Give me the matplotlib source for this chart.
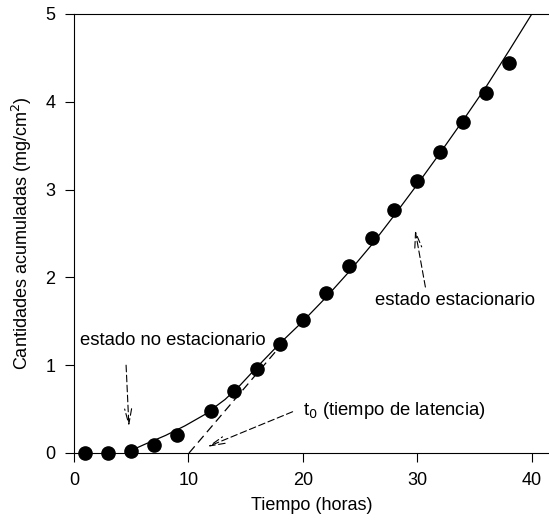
import matplotlib
matplotlib.use('Agg')
import matplotlib.pyplot as plt

plt.rcParams['font.family'] = ['Liberation Sans', 'DejaVu Sans']

# datos experimentales
tiempo = [1, 3, 5, 7, 9, 12, 14, 16, 18, 20, 22, 24, 26, 28, 30, 32, 34, 36, 38]
cantidad = [0.0, 0.0, 0.02, 0.09, 0.21, 0.48, 0.71, 0.96, 1.24, 1.52, 1.82, 2.13,
            2.45, 2.77, 3.10, 3.43, 3.77, 4.10, 4.44]

# curva ajustada
curvaX = [5, 6.2, 8, 9.7, 11.45, 13.2, 14.5, 16, 18, 20, 22, 24, 26, 28, 30, 32, 34, 36, 38, 40, 41]
curvaY = [0.03, 0.10, 0.20, 0.31, 0.44, 0.61, 0.77, 0.98, 1.25, 1.50, 1.77,
          2.06, 2.37, 2.71, 3.06, 3.42, 3.79, 4.17, 4.58, 5.0, 5.21]

# recta tangente (tiempo de latencia)
tangenteX = [10.05, 18.3]
tangenteY = [0.0, 1.26]

fig = plt.figure(figsize=(5.49, 5.24), dpi=100)
ax = fig.add_axes([0.1348, 0.1355, 0.8652, 0.8378])

ax.plot(curvaX, curvaY, 'k-', lw=0.9)
ax.plot(tangenteX, tangenteY, color='black', lw=0.9, linestyle=(0, (7, 4)))
ax.plot(tiempo, cantidad, 'ko', ms=9.5, clip_on=False, zorder=5)

ax.set_xlim(0, 41.5)
ax.set_ylim(0, 5)
ax.set_xticks([0, 10, 20, 30, 40])
ax.set_yticks([0, 1, 2, 3, 4, 5])
ax.tick_params(direction='out', length=6.5, width=0.8, labelsize=13, pad=7)
ax.spines['right'].set_visible(False)
for s in ['left', 'bottom', 'top']:
    ax.spines[s].set_linewidth(0.8)

ax.set_xlabel('Tiempo (horas)', fontsize=13, labelpad=6)
ax.set_ylabel('Cantidades acumuladas (mg/cm$^2$)', fontsize=13, labelpad=8)

flecha = dict(arrowstyle='->,head_length=1.1,head_width=0.25', linestyle=(0, (6, 3)),
              lw=0.8, color='black', shrinkA=0, shrinkB=0)

ax.text(0.52, 1.28, 'estado no estacionario', fontsize=13.3, va='center', ha='left')
ax.annotate('', xy=(4.8, 0.30), xytext=(4.55, 1.0), arrowprops=flecha)

ax.text(26.3, 1.74, 'estado estacionario', fontsize=13.3, va='center', ha='left')
ax.annotate('', xy=(29.8, 2.54), xytext=(30.7, 1.89), arrowprops=flecha)

ax.text(20.0, 0.48, 't$_0$ (tiempo de latencia)', fontsize=13.3, va='center', ha='left')
ax.annotate('', xy=(11.65, 0.07), xytext=(19.1, 0.47), arrowprops=flecha)

fig.savefig('out.png', dpi=100)
